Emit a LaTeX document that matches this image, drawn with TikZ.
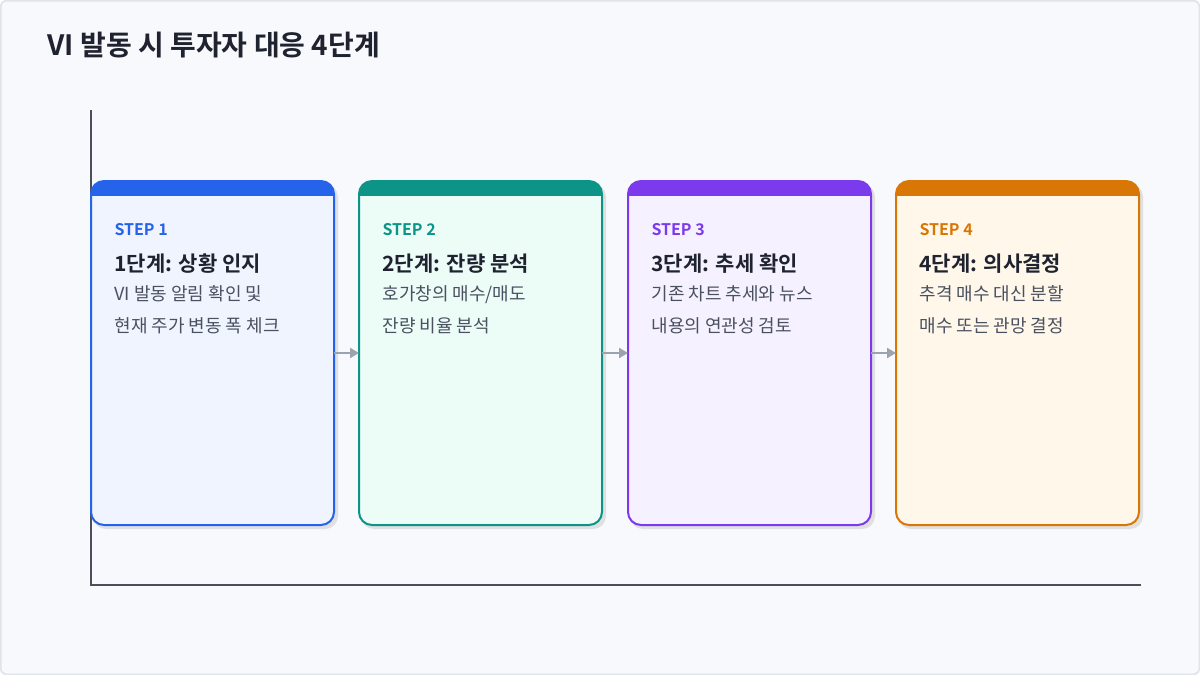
\documentclass[tikz,border=0pt]{standalone}
\usepackage{fontspec}
\setmainfont{Noto Sans CJK KR}[BoldFont={Noto Sans CJK KR Bold}]
\usetikzlibrary{arrows.meta}
\definecolor{bg}{HTML}{F8F9FC}
\definecolor{bd}{HTML}{E0E3EA}
\definecolor{ink}{HTML}{1F2330}
\definecolor{txt}{HTML}{4A5060}
\definecolor{ax}{HTML}{4A4F5C}
\definecolor{arr}{HTML}{9AA3AF}
\definecolor{cA}{HTML}{2563EB}\definecolor{fA}{HTML}{EFF4FF}
\definecolor{cB}{HTML}{0D9488}\definecolor{fB}{HTML}{ECFDF8}
\definecolor{cC}{HTML}{7C3AED}\definecolor{fC}{HTML}{F5F1FF}
\definecolor{cD}{HTML}{D97706}\definecolor{fD}{HTML}{FFF8EA}
\tikzset{
 steplbl/.style={anchor=west,font=\fontsize{16}{16}\selectfont\bfseries},
 headlbl/.style={anchor=west,text=ink,font=\fontsize{21}{21}\selectfont\bfseries},
 bodylbl/.style={anchor=north west,text=txt,align=left,font=\fontsize{18}{32}\selectfont},
 flow/.style={arr,line width=2.5pt,-{Triangle[length=9pt,width=10pt]}}
}
\newcommand{\card}[7]{% x, col, fill, step, head, body, name
 \fill[black!12,rounded corners=13pt] (#1+2,-184) rectangle (#1+247,-529);
 \begin{scope}
 \clip[rounded corners=13pt] (#1,-181) rectangle (#1+243,-525);
 \fill[#3] (#1,-181) rectangle (#1+243,-525);
 \fill[#2] (#1,-181) rectangle (#1+243,-196);
 \end{scope}
 \draw[#2,line width=2pt,rounded corners=13pt] (#1,-181) rectangle (#1+243,-525);
 \coordinate (#7w) at (#1,-353);
 \coordinate (#7e) at (#1+243,-353);
 \node[steplbl,text=#2] (#7s) at (#1+20,-230) {#4};
 \node[headlbl] (#7h) at (#1+20,-264) {#5};
 \node[bodylbl] (#7b) at (#1+20,-282) {#6};
}
\begin{document}
\begin{tikzpicture}[x=1pt,y=1pt]
\useasboundingbox (0,0) rectangle (1200,-675);
\fill[bd,rounded corners=6pt] (0,0) rectangle (1200,-675);
\fill[bg,rounded corners=5pt] (1.5,-1.5) rectangle (1198.5,-673.5);
\node[anchor=west,text=ink,font=\fontsize{28}{28}\selectfont\bfseries] (title) at (44,-45) {VI 발동 시 투자자 대응 4단계};
\coordinate (top) at (91,-110);
\coordinate (org) at (91,-585);
\coordinate (rt) at (1141,-585);
\draw[ax,line width=1.3pt] (top) -- (org) -- (rt);
\card{91}{cA}{fA}{STEP 1}{1단계: 상황 인지}{VI 발동 알림 확인 및\\현재 주가 변동 폭 체크}{a}
\card{359}{cB}{fB}{STEP 2}{2단계: 잔량 분석}{호가창의 매수/매도\\잔량 비율 분석}{b}
\card{628}{cC}{fC}{STEP 3}{3단계: 추세 확인}{기존 차트 추세와 뉴스\\내용의 연관성 검토}{c}
\card{896}{cD}{fD}{STEP 4}{4단계: 의사결정}{추격 매수 대신 분할\\매수 또는 관망 결정}{d}
\draw[flow] (ae) -- (bw);
\draw[flow] (be) -- (cw);
\draw[flow] (ce) -- (dw);
\end{tikzpicture}
\end{document}
